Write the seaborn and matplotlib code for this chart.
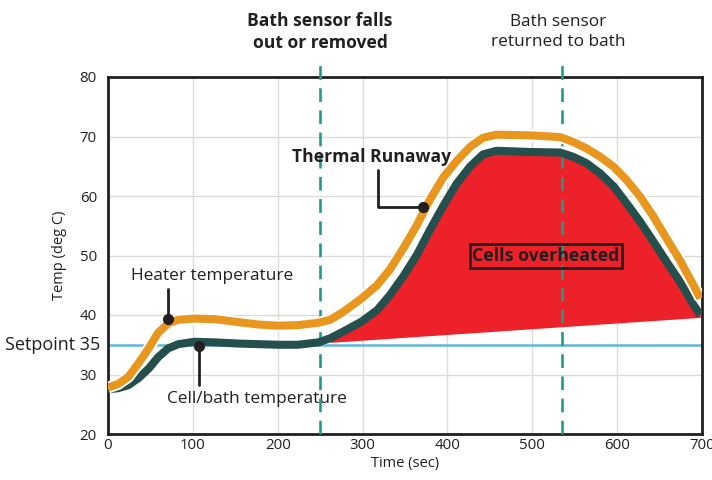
import numpy as np
import pandas as pd
import matplotlib
matplotlib.use("Agg")
import matplotlib.pyplot as plt
import matplotlib.patheffects as pe
import seaborn as sns

# ---- data ----
time_sec = [0, 12, 24, 36, 48, 59, 71, 83, 102, 126, 154, 177, 201, 224, 248, 262,
            277, 299, 317, 332, 348, 364, 379, 395, 411, 427, 442, 458, 497, 533,
            548, 564, 580, 596, 611, 627, 643, 658, 674, 690, 698]
heater_temp = [27.8, 28.4, 29.6, 31.9, 34.4, 37.0, 38.6, 39.2, 39.4, 39.3, 38.8, 38.4,
               38.2, 38.3, 38.7, 39.2, 40.5, 42.8, 45.0, 47.6, 51.2, 55.1, 59.3, 63.1,
               65.9, 68.3, 69.8, 70.3, 70.2, 69.9, 69.1, 68.0, 66.6, 64.9, 62.7, 59.9,
               56.5, 52.9, 49.2, 45.0, 42.8]
cell_temp = [27.5, 27.7, 28.2, 29.4, 31.0, 32.9, 34.4, 35.1, 35.5, 35.4, 35.2, 35.1,
             35.0, 35.0, 35.4, 36.1, 37.2, 38.9, 40.8, 43.3, 46.5, 50.1, 54.2, 58.3,
             62.1, 65.0, 67.0, 67.6, 67.4, 67.3, 66.6, 65.5, 63.8, 61.6, 58.8, 55.7,
             52.3, 49.0, 45.6, 41.7, 40.0]
setpoint = 35
overheat_base_x = [262, 698]
overheat_base_y = [35.4, 39.6]
event_times = [250, 535]
event_labels = ["Bath sensor falls\nout or removed", "Bath sensor\nreturned to bath"]
x_ticks = [0, 100, 200, 300, 400, 500, 600, 700]
y_ticks = [20, 30, 40, 50, 60, 70, 80]

ORANGE = "#e9961f"
DARK = "#254f4d"
RED = "#ec2129"
TEAL = "#1f9a8d"
BLUE = "#62b6d8"
TXT = "#231f20"

sns.set_theme(style="white")
plt.rcParams["font.family"] = ["Open Sans", "DejaVu Sans"]

df = pd.DataFrame({"time": time_sec, "heater": heater_temp, "cell": cell_temp})

fig = plt.figure(figsize=(7.12, 4.8), dpi=100)
ax = fig.add_axes([108 / 712, 46 / 480, 594 / 712, 357 / 480])
ax.set_xlim(0, 700)
ax.set_ylim(20, 80)
ax.set_xticks(x_ticks)
ax.set_yticks(y_ticks)
ax.grid(True, color="#dcdcd6", linewidth=1.0)
ax.set_axisbelow(True)
for s in ax.spines.values():
    s.set_color(TXT)
    s.set_linewidth(2.0)
ax.tick_params(axis="both", length=0, labelsize=10.8, colors=TXT)
ax.tick_params(axis="y", pad=8)
ax.tick_params(axis="x", pad=3)

# setpoint line
ax.axhline(setpoint, color=BLUE, linewidth=1.8, zorder=2)
ax.text(-9, setpoint, "Setpoint 35", ha="right", va="center", fontsize=13,
        color=TXT, clip_on=False)

# overheated region
sel = [i for i, t in enumerate(time_sec) if overheat_base_x[0] <= t <= overheat_base_x[1]]
fx = [time_sec[i] for i in sel]
fy_top = [cell_temp[i] for i in sel]
fy_bot = np.interp(fx, overheat_base_x, overheat_base_y)
ax.fill_between(fx, fy_bot, fy_top, color=RED, linewidth=0, zorder=3)

# vertical event lines
for t in event_times:
    ax.plot([t, t], [20, 82.6], color=TEAL, linewidth=1.9, dashes=(5.2, 3.2),
            clip_on=False, zorder=4)

# curves
sns.lineplot(data=df, x="time", y="cell", ax=ax, color=DARK, linewidth=5.8,
             zorder=5, sort=False)
sns.lineplot(data=df, x="time", y="heater", ax=ax, color=ORANGE, linewidth=5.8,
             zorder=6, sort=False,
             path_effects=[pe.Stroke(linewidth=8.5, foreground="white"), pe.Normal()])
for ln in ax.lines[-2:]:
    ln.set_solid_joinstyle("round")
    ln.set_solid_capstyle("butt")
ax.set_xlabel("Time (sec)", fontsize=10.5, color=TXT, labelpad=2)
ax.set_ylabel("Temp (deg C)", fontsize=10.5, color=TXT, labelpad=9)

# event texts
ax.text(event_times[0], 87.6, event_labels[0], ha="center", va="center", fontsize=12.6,
        fontweight="bold", color=TXT, clip_on=False, linespacing=1.3)
ax.text(event_times[1] - 4, 87.6, event_labels[1], ha="center", va="center", fontsize=12.4,
        color=TXT, clip_on=False, linespacing=1.3)

# annotations
ax.plot([70.7, 70.7], [39.4, 44.3], color=TXT, linewidth=2, zorder=7)
ax.plot([70.7], [39.4], "o", color=TXT, markersize=7, zorder=8)
ax.text(122.6, 46.6, "Heater temperature", ha="center", va="center", fontsize=12.4, color=TXT)

ax.plot([107, 107], [34.8, 28.2], color=TXT, linewidth=2, zorder=7)
ax.plot([107], [34.8], "o", color=TXT, markersize=7, zorder=8)
ax.text(175.6, 25.9, "Cell/bath temperature", ha="center", va="center", fontsize=12.4, color=TXT)

ax.plot([318, 318, 371], [64.4, 58.2, 58.2], color=TXT, linewidth=2, zorder=7)
ax.plot([371], [58.2], "o", color=TXT, markersize=7, zorder=8)
ax.text(311, 66.6, "Thermal Runaway", ha="center", va="center", fontsize=12.6,
        fontweight="bold", color=TXT, zorder=9)

ax.text(516, 49.9, "Cells overheated", ha="center", va="center", fontsize=12.8,
        fontweight="bold", color=TXT, zorder=9,
        bbox=dict(boxstyle="square,pad=0.15", facecolor="none", edgecolor=TXT, linewidth=2))

fig.savefig("out.png", dpi=100)
